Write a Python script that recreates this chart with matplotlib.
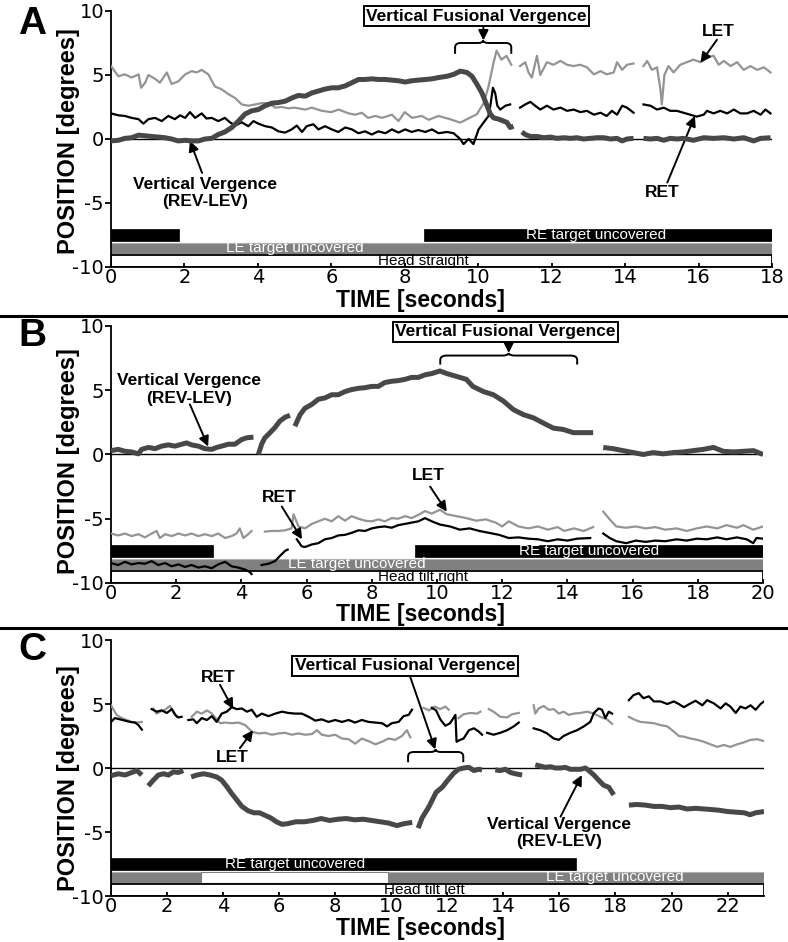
import numpy as np
import matplotlib
matplotlib.use("Agg")
import matplotlib.pyplot as plt
from matplotlib.lines import Line2D
from matplotlib.patches import Rectangle, PathPatch
from matplotlib.path import Path

plt.rcParams['axes.unicode_minus'] = False
TXT = ['Liberation Sans', 'DejaVu Sans']

# ---------------- data (time [s], position [deg]); None = gap ----------------
# Panel A, head straight
a_let = [(0, 5.7), (0.2, 4.9), (0.38, 5.05), (0.56, 4.8), (0.75, 5.05), (0.82, 4.0), (0.93, 4.4), (1.02, 5.0),
         (1.2, 4.7), (1.33, 4.4), (1.52, 5.2), (1.65, 4.3), (1.83, 4.5), (2.02, 5.05), (2.2, 5.3), (2.33, 5.2),
         (2.47, 5.4), (2.65, 5.05), (2.83, 4.1), (3.0, 3.9), (3.2, 3.5), (3.38, 3.2), (3.56, 2.7), (3.74, 2.6),
         (3.92, 2.7), (4.1, 2.8), (4.29, 2.8), (4.47, 2.45), (4.65, 2.5), (4.83, 2.4), (5.0, 2.45), (5.29, 2.3),
         (5.47, 2.45), (5.74, 2.2), (6.0, 2.1), (6.2, 2.3), (6.47, 2.0), (6.65, 1.9), (6.83, 2.05), (7.0, 1.65),
         (7.2, 1.8), (7.38, 1.65), (7.65, 1.9), (7.83, 1.4), (8.0, 2.1), (8.2, 1.65), (8.46, 1.8), (8.65, 1.5),
         (8.92, 1.8), (9.24, 1.54), (9.51, 1.28), (9.78, 1.67), (9.96, 1.93), (10.15, 2.8), (10.28, 4.1),
         (10.42, 6.0), (10.5, 6.9), (10.63, 6.2), (10.77, 6.5), (10.9, 5.8), None,
         (11.14, 5.7), (11.28, 6.0), (11.37, 5.2), (11.46, 4.8), (11.6, 6.5), (11.69, 5.0), (11.87, 6.0),
         (12.05, 5.8), (12.24, 6.1), (12.42, 5.8), (12.6, 5.7), (12.78, 5.8), (12.96, 5.6), (13.15, 5.05),
         (13.33, 5.3), (13.5, 5.05), (13.69, 5.2), (13.78, 6.0), (13.92, 5.4), (14.05, 5.8), (14.23, 5.9), None,
         (14.5, 5.7), (14.6, 6.1), (14.73, 5.4), (14.87, 5.6), (14.96, 3.9), (15.0, 2.7), (15.07, 5.0),
         (15.18, 5.7), (15.32, 5.2), (15.5, 5.8), (15.68, 6.0), (15.86, 6.2), (16.05, 6.0), (16.23, 6.4),
         (16.41, 6.5), (16.55, 5.8), (16.69, 6.1), (16.87, 5.7), (17.05, 6.0), (17.23, 5.4), (17.41, 5.7),
         (17.6, 5.4), (17.78, 5.6), (17.96, 5.2)]
a_ret = [(0, 2.0), (0.2, 1.85), (0.38, 1.8), (0.56, 1.65), (0.75, 1.55), (0.88, 1.2), (1.02, 1.55), (1.2, 1.65),
         (1.38, 1.4), (1.56, 1.8), (1.74, 1.55), (1.88, 1.85), (2.02, 1.65), (2.15, 2.1), (2.29, 1.65), (2.47, 2.0),
         (2.6, 1.6), (2.74, 1.65), (2.92, 1.4), (3.1, 1.65), (3.24, 1.3), (3.38, 1.05), (3.56, 1.3), (3.74, 1.0),
         (3.88, 1.4), (4.01, 1.2), (4.2, 1.0), (4.38, 0.9), (4.56, 0.6), (4.74, 0.5), (4.92, 0.75), (5.06, 1.05),
         (5.2, 0.55), (5.33, 1.0), (5.51, 1.15), (5.65, 0.75), (5.83, 1.0), (6.01, 0.75), (6.19, 0.55), (6.38, 0.9),
         (6.56, 0.75), (6.74, 0.45), (6.92, 0.6), (7.1, 0.35), (7.28, 0.6), (7.47, 0.45), (7.65, 0.75), (7.83, 0.5),
         (8.01, 0.75), (8.19, 0.55), (8.37, 0.7), (8.56, 0.55), (8.74, 0.75), (8.92, 0.45), (9.15, 0.55),
         (9.33, 0.45), (9.51, 0.0), (9.6, -0.4), (9.74, 0.0), (9.87, -0.4), (10.01, 0.75), (10.15, 1.3),
         (10.28, 1.8), (10.33, 2.6), (10.4, 4.0), (10.46, 3.6), (10.52, 2.6), (10.6, 2.3), (10.74, 2.6),
         (10.87, 2.7), None,
         (11.14, 2.45), (11.28, 2.7), (11.42, 2.9), (11.55, 2.6), (11.69, 2.3), (11.87, 2.6), (12.05, 2.3),
         (12.24, 2.45), (12.42, 2.2), (12.6, 2.3), (12.78, 2.1), (12.96, 2.2), (13.15, 1.9), (13.33, 2.05),
         (13.5, 1.8), (13.64, 2.2), (13.78, 1.9), (13.92, 2.6), (14.05, 2.45), (14.23, 2.05), None,
         (14.5, 2.7), (14.69, 2.6), (14.87, 2.3), (15.05, 2.45), (15.23, 2.2), (15.41, 2.2), (15.59, 2.05),
         (15.77, 1.9), (15.95, 1.75), (16.14, 1.9), (16.23, 2.2), (16.41, 2.0), (16.59, 2.2), (16.78, 2.0),
         (16.96, 2.3), (17.14, 2.0), (17.32, 2.0), (17.5, 2.2), (17.69, 1.9), (17.82, 2.3), (17.96, 2.0)]
a_vv = [(0, -0.15), (0.2, -0.1), (0.38, 0.05), (0.56, 0.1), (0.75, 0.3), (0.93, 0.25), (1.1, 0.2), (1.29, 0.15),
        (1.47, 0.1), (1.65, 0.0), (1.83, -0.15), (2.02, -0.1), (2.2, -0.15), (2.38, -0.15), (2.56, 0.0),
        (2.74, 0.05), (2.92, 0.35), (3.1, 0.55), (3.29, 0.9), (3.47, 1.4), (3.65, 1.95), (3.83, 2.2), (4.01, 2.3),
        (4.2, 2.6), (4.38, 2.8), (4.56, 2.85), (4.74, 2.95), (4.92, 3.2), (5.1, 3.4), (5.29, 3.35), (5.47, 3.6),
        (5.65, 3.75), (5.83, 3.9), (6.01, 4.0), (6.19, 4.0), (6.38, 4.15), (6.56, 4.4), (6.74, 4.65), (6.92, 4.65),
        (7.1, 4.7), (7.28, 4.65), (7.47, 4.65), (7.65, 4.6), (7.83, 4.55), (8.01, 4.45), (8.19, 4.55), (8.37, 4.6),
        (8.56, 4.65), (8.74, 4.7), (8.92, 4.8), (9.15, 4.9), (9.33, 5.05), (9.51, 5.3), (9.69, 5.2), (9.83, 4.9),
        (9.96, 4.3), (10.1, 3.6), (10.24, 2.6), (10.33, 1.95), (10.42, 1.65), (10.56, 1.55), (10.69, 1.4),
        (10.78, 1.3), (10.87, 0.9), (10.96, 1.0), None,
        (11.19, 0.55), (11.28, 0.35), (11.42, 0.2), (11.6, 0.2), (11.78, 0.1), (11.96, 0.15), (12.15, 0.05),
        (12.33, 0.1), (12.51, 0.05), (12.69, 0.1), (12.87, 0.0), (13.05, 0.05), (13.24, 0.1), (13.42, 0.1),
        (13.6, 0.0), (13.78, 0.05), (13.92, -0.15), (14.05, 0.0), (14.23, 0.05), None,
        (14.5, 0.05), (14.69, 0.0), (14.87, 0.05), (15.05, -0.1), (15.23, 0.05), (15.41, 0.0), (15.59, 0.05),
        (15.86, -0.1), (16.14, 0.1), (16.41, 0.05), (16.69, 0.1), (16.96, 0.0), (17.23, 0.1), (17.5, -0.15),
        (17.69, 0.05), (17.96, 0.1)]

# Panel B, head tilt right
b_let = [(0, -6.15), (0.22, -6.3), (0.43, -6.15), (0.63, -6.35), (0.84, -6.2), (1.04, -6.45), (1.25, -6.15),
         (1.4, -5.95), (1.5, -6.5), (1.66, -6.2), (1.86, -6.35), (2.07, -6.15), (2.27, -6.3), (2.47, -6.15),
         (2.68, -6.35), (2.88, -6.2), (3.09, -6.35), (3.29, -6.15), (3.5, -6.5), (3.7, -6.35), (3.85, -6.15),
         (3.95, -5.75), (4.06, -6.5), (4.21, -6.2), (4.31, -5.95), None,
         (4.72, -6.0), (4.93, -5.95), (5.13, -5.95), (5.34, -5.9), (5.54, -5.75), (5.6, -4.65), (5.75, -5.6),
         (5.95, -5.75), (6.16, -5.4), (6.36, -5.2), (6.56, -5.0), (6.77, -5.2), (6.97, -4.8), (7.18, -5.15),
         (7.38, -4.8), (7.59, -5.0), (7.79, -5.15), (8.0, -5.2), (8.2, -5.05), (8.4, -5.2), (8.61, -4.95),
         (8.81, -5.0), (9.02, -4.8), (9.22, -4.95), (9.43, -4.7), (9.63, -4.4), (9.84, -4.6), (10.09, -4.3),
         (10.3, -4.65), (10.6, -4.8), (10.9, -4.95), (11.2, -5.15), (11.5, -5.05), (11.8, -5.3), (12.0, -5.6),
         (12.2, -5.2), (12.5, -5.6), (12.8, -5.75), (13.1, -5.6), (13.4, -5.85), (13.7, -5.65), (13.9, -5.95),
         (14.2, -5.75), (14.5, -5.95), (14.79, -5.65), None,
         (15.1, -4.45), (15.3, -5.05), (15.5, -5.6), (15.8, -5.7), (16.1, -5.6), (16.4, -5.75), (16.7, -5.65),
         (17.0, -5.85), (17.35, -5.75), (17.66, -5.95), (17.97, -5.75), (18.27, -5.6), (18.6, -5.75),
         (18.88, -5.5), (19.2, -5.7), (19.4, -5.5), (19.7, -5.85), (20.0, -5.6)]
b_ret = [(0, -8.45), (0.22, -8.6), (0.43, -8.35), (0.63, -8.55), (0.84, -8.45), (1.04, -8.5), (1.25, -8.3),
         (1.45, -8.6), (1.66, -8.45), (1.86, -8.7), (2.07, -8.55), (2.27, -8.75), (2.47, -8.6), (2.68, -8.8),
         (2.88, -8.7), (3.09, -8.85), (3.29, -8.55), (3.5, -8.35), (3.7, -8.7), (3.9, -8.8), (4.11, -8.95),
         (4.26, -9.15), (4.31, -9.3), None,
         (4.62, -8.6), (4.83, -8.5), (5.03, -8.3), (5.18, -7.9), (5.34, -7.5), (5.42, -7.4), None,
         (5.7, -6.6), (5.85, -7.15), (5.95, -7.2), (6.16, -7.0), (6.36, -6.9), (6.56, -6.6), (6.77, -6.5),
         (6.97, -6.3), (7.18, -6.25), (7.38, -6.1), (7.59, -5.9), (7.79, -5.95), (8.0, -5.75), (8.2, -5.65),
         (8.4, -5.6), (8.61, -5.7), (8.81, -5.5), (9.02, -5.4), (9.22, -5.3), (9.43, -5.2), (9.63, -4.95),
         (9.84, -5.2), (10.09, -5.45), (10.4, -5.6), (10.7, -5.85), (11.0, -5.75), (11.3, -5.95), (11.6, -6.1),
         (11.9, -6.25), (12.2, -6.5), (12.5, -6.45), (12.8, -6.55), (13.1, -6.6), (13.4, -6.75), (13.7, -6.6),
         (14.0, -6.7), (14.3, -6.55), (14.7, -6.5), None,
         (15.1, -6.15), (15.3, -6.5), (15.5, -6.75), (15.8, -6.9), (16.1, -6.7), (16.4, -6.8), (16.7, -6.7),
         (17.0, -6.75), (17.35, -6.6), (17.66, -6.7), (17.97, -6.55), (18.27, -6.6), (18.6, -6.45),
         (18.88, -6.6), (19.2, -6.45), (19.5, -6.6), (19.7, -6.9), (19.8, -6.5), (20.0, -6.55)]
b_vv = [(0, 0.3), (0.22, 0.4), (0.43, 0.25), (0.63, 0.2), (0.84, 0.05), (0.94, 0.4), (1.15, 0.55), (1.35, 0.45),
        (1.55, 0.65), (1.76, 0.75), (1.96, 0.65), (2.17, 0.8), (2.32, 0.9), (2.47, 0.75), (2.68, 0.65),
        (2.88, 0.45), (3.09, 0.4), (3.24, 0.55), (3.39, 0.65), (3.6, 0.8), (3.8, 0.8), (4.0, 1.15), (4.16, 1.3),
        (4.37, 1.35), None,
        (4.52, 0.0), (4.62, 0.8), (4.72, 1.3), (4.88, 1.7), (5.03, 2.1), (5.18, 2.6), (5.34, 2.9), (5.49, 3.05),
        None,
        (5.64, 2.2), (5.8, 3.1), (5.95, 3.6), (6.16, 3.9), (6.36, 4.3), (6.56, 4.4), (6.77, 4.65), (6.97, 4.65),
        (7.18, 4.9), (7.38, 5.05), (7.59, 5.15), (7.79, 5.2), (8.0, 5.3), (8.2, 5.3), (8.4, 5.6), (8.61, 5.7),
        (8.81, 5.75), (9.02, 5.85), (9.22, 6.0), (9.43, 6.0), (9.63, 6.2), (9.84, 6.3), (10.09, 6.5),
        (10.3, 6.3), (10.5, 6.15), (10.7, 6.0), (10.9, 5.85), (11.1, 5.3), (11.42, 4.9), (11.73, 4.65),
        (12.04, 4.15), (12.34, 3.5), (12.65, 3.1), (12.96, 2.85), (13.26, 2.45), (13.57, 2.05), (13.87, 1.95),
        (14.18, 1.7), (14.49, 1.7), (14.79, 1.7), None,
        (15.1, 0.55), (15.41, 0.45), (15.71, 0.3), (16.02, 0.15), (16.33, 0.0), (16.63, 0.15), (16.94, 0.05),
        (17.25, 0.15), (17.56, 0.2), (17.86, 0.3), (18.17, 0.4), (18.48, 0.55), (18.78, 0.25), (19.09, 0.2),
        (19.4, 0.25), (19.71, 0.3), (20.0, 0.0)]

# Panel C, head tilt left
c_let = [(0, 4.9), (0.08, 4.6), (0.2, 4.15), (0.38, 3.9), (0.56, 3.75), (0.74, 3.6), (0.92, 3.55), (1.1, 3.6), None,
         (1.51, 4.65), (1.63, 4.25), (1.75, 4.4), (1.93, 4.55), (2.1, 4.85), (2.23, 4.4), (2.35, 4.0), None,
         (2.88, 4.0), (3.06, 4.4), (3.24, 4.25), (3.42, 4.5), (3.6, 4.25), (3.77, 3.8), (3.9, 3.5), (4.07, 3.55),
         (4.31, 3.5), (4.55, 3.55), (4.79, 3.35), (5.02, 2.85), (5.26, 2.7), (5.5, 2.75), (5.74, 2.6),
         (5.98, 2.7), (6.21, 2.75), (6.45, 2.6), (6.69, 2.7), (6.93, 2.6), (7.17, 2.65), (7.35, 2.95), (7.52, 2.6),
         (7.76, 2.5), (8.0, 2.6), (8.24, 2.3), (8.48, 2.25), (8.71, 1.9), (8.95, 2.3), (9.19, 2.1), (9.43, 1.85),
         (9.67, 2.05), (9.9, 2.3), (10.14, 2.2), (10.38, 2.5), (10.56, 2.95), (10.68, 2.4), None,
         (11.15, 4.7), (11.35, 4.5), (11.55, 4.8), (11.75, 4.6), (11.93, 4.8), (12.05, 4.55), None,
         (12.4, 3.9), (12.58, 4.2), (12.82, 4.3), (13.06, 4.25), (13.18, 4.4), None,
         (13.48, 4.6), (13.65, 4.4), (13.89, 4.0), (14.13, 3.95), (14.31, 4.2), (14.55, 4.3), None,
         (15.08, 4.9), (15.14, 4.25), (15.26, 4.65), (15.44, 4.85), (15.62, 4.55), (15.8, 4.6), (15.98, 4.25),
         (16.15, 4.4), (16.33, 4.15), (16.51, 4.25), (16.75, 4.3), (16.99, 4.4), (17.23, 4.25), (17.46, 4.0),
         (17.7, 3.8), (17.88, 3.45), None,
         (18.48, 4.0), (18.65, 3.8), (18.89, 3.6), (19.13, 3.55), (19.37, 3.5), (19.61, 3.35), (19.85, 3.25),
         (20.08, 2.85), (20.26, 2.5), (20.44, 2.45), (20.68, 2.3), (20.92, 2.2), (21.15, 2.05), (21.39, 1.85),
         (21.63, 1.65), (21.87, 1.8), (22.1, 1.65), (22.34, 1.85), (22.58, 2.0), (22.82, 2.2), (23.06, 2.25),
         (23.3, 2.1)]
c_ret = [(0, 3.6), (0.14, 3.9), (0.32, 3.8), (0.5, 3.7), (0.68, 3.6), (0.86, 3.55), (0.98, 3.35), (1.1, 3.0), None,
         (1.45, 4.6), (1.63, 4.4), (1.81, 4.5), (1.99, 4.3), (2.17, 4.6), (2.29, 4.15), (2.4, 3.95), (2.52, 4.0),
         None,
         (2.76, 3.75), (2.94, 3.8), (3.06, 3.5), (3.24, 3.9), (3.42, 3.75), (3.6, 4.05), (3.77, 3.6),
         (3.95, 4.25), (4.13, 4.4), (4.31, 4.75), (4.49, 4.6), (4.67, 4.65), (4.85, 4.4), (5.02, 4.55), (5.2, 4.0),
         (5.38, 4.25), (5.62, 4.05), (5.86, 4.25), (6.1, 4.4), (6.33, 4.3), (6.57, 4.25), (6.81, 4.25), (7.05, 4.0),
         (7.29, 3.7), (7.52, 3.8), (7.76, 3.6), (8.0, 3.75), (8.24, 3.6), (8.48, 3.75), (8.71, 3.55), (8.95, 3.75),
         (9.19, 3.6), (9.43, 3.55), (9.67, 3.5), (9.85, 3.25), (10.02, 3.5), (10.26, 3.6), (10.44, 4.05),
         (10.62, 4.15), (10.74, 4.55), None,
         (11.45, 4.7), (11.6, 4.5), (11.75, 3.8), (11.93, 3.3), (12.1, 3.5), (12.29, 4.15), (12.33, 2.05),
         (12.46, 2.2), (12.58, 2.3), (12.77, 2.95), (12.95, 3.1), (13.12, 2.85), (13.24, 2.6), None,
         (13.42, 2.75), (13.65, 2.6), (13.89, 2.75), (14.13, 2.95), (14.37, 3.25), (14.55, 3.55), None,
         (15.08, 3.1), (15.32, 2.95), (15.56, 2.7), (15.8, 2.3), (15.98, 2.2), (16.15, 2.5), (16.39, 2.75),
         (16.63, 2.95), (16.87, 3.25), (17.1, 3.6), (17.23, 4.3), (17.4, 4.65), (17.52, 4.55), (17.64, 3.9),
         (17.76, 4.4), (17.88, 4.25), None,
         (18.48, 5.3), (18.65, 5.7), (18.83, 5.85), (19.0, 5.45), (19.19, 5.6), (19.37, 5.2), (19.61, 5.2),
         (19.85, 5.0), (20.08, 5.2), (20.26, 5.0), (20.44, 4.75), (20.68, 5.05), (20.86, 5.25), (21.1, 4.9),
         (21.27, 5.3), (21.51, 5.05), (21.75, 4.65), (21.93, 5.05), (22.1, 4.8), (22.29, 4.3), (22.46, 4.8),
         (22.64, 4.65), (22.82, 4.9), (23.0, 4.55), (23.18, 5.0), (23.3, 5.2)]
c_vv = [(0, -0.6), (0.26, -0.45), (0.5, -0.55), (0.74, -0.35), (0.92, -0.2), (1.1, -0.55), None,
        (1.33, -1.4), (1.51, -0.95), (1.69, -0.55), (1.87, -0.45), (2.05, -0.55), (2.23, -0.3), (2.4, -0.35),
        (2.58, -0.2), None,
        (2.86, -0.7), (3.06, -0.55), (3.3, -0.45), (3.54, -0.55), (3.77, -0.7), (3.95, -0.95), (4.13, -1.45),
        (4.31, -2.0), (4.49, -2.5), (4.67, -3.0), (4.9, -3.35), (5.1, -3.5), (5.3, -3.5), (5.5, -3.7),
        (5.7, -3.9), (5.9, -4.2), (6.1, -4.4), (6.3, -4.35), (6.6, -4.2), (6.9, -4.2), (7.2, -4.1), (7.5, -3.95),
        (7.8, -4.1), (8.1, -4.0), (8.4, -3.95), (8.7, -4.05), (9.0, -4.0), (9.3, -4.1), (9.6, -4.2), (9.9, -4.3),
        (10.2, -4.5), (10.45, -4.35), (10.75, -4.25), None,
        (10.96, -4.7), (11.1, -3.9), (11.35, -3.0), (11.6, -1.9), (11.82, -1.5), (12.0, -1.0), (12.23, -0.4),
        (12.4, -0.1), (12.58, 0.0), (12.77, 0.05), (12.95, -0.2), (13.12, -0.1), (13.24, -0.15), None,
        (13.71, -0.15), (13.89, -0.2), (14.07, -0.1), (14.25, -0.35), (14.43, -0.45), (14.67, -0.55), None,
        (15.14, 0.25), (15.32, 0.15), (15.5, 0.05), (15.68, 0.1), (15.86, 0.0), (16.04, 0.0), (16.21, 0.05),
        (16.39, -0.1), (16.57, -0.1), (16.75, -0.1), (16.93, 0.0), (17.05, -0.2), (17.23, -0.55), (17.4, -0.95),
        (17.58, -1.35), (17.76, -1.5), (17.94, -2.1), None,
        (18.48, -2.9), (18.77, -2.85), (19.07, -2.9), (19.37, -3.0), (19.67, -3.0), (19.96, -3.1),
        (20.26, -3.05), (20.56, -3.2), (20.86, -3.15), (21.15, -3.2), (21.45, -3.25), (21.7, -3.3), (22.0, -3.4),
        (22.3, -3.45), (22.6, -3.5), (22.8, -3.65), (23.0, -3.5), (23.3, -3.4)]

# condition bars: (start, end)
a_re_cover = [(0, 1.85), (8.53, 18)]
a_le_cover = [(0, 18)]
b_re_cover = [(0, 3.13), (9.33, 20)]
b_le_cover = [(0, 20)]
c_re_cover = [(0, 16.6)]
c_le_cover = [(0, 3.21), (9.9, 23.3)]


def xy(pairs):
    t = [np.nan if p is None else p[0] for p in pairs]
    v = [np.nan if p is None else p[1] for p in pairs]
    return np.array(t), np.array(v)


def brace(ax, x0, x1, ytop, ybot, r):
    xc = (x0 + x1) / 2
    verts = [(x0, ybot), (x0, ytop - 0.35), (x0, ytop), (x0 + r, ytop), (xc - r, ytop),
             (xc, ytop), (xc, ytop + 0.2), (xc, ytop), (xc + r, ytop),
             (x1 - r, ytop), (x1, ytop), (x1, ytop - 0.35), (x1, ybot)]
    codes = [Path.MOVETO, Path.LINETO, Path.CURVE3, Path.CURVE3, Path.LINETO,
             Path.CURVE3, Path.CURVE3, Path.CURVE3, Path.CURVE3,
             Path.LINETO, Path.CURVE3, Path.CURVE3, Path.LINETO]
    ax.add_patch(PathPatch(Path(verts, codes), fc='none', ec='k', lw=1.4, clip_on=False))


def arrow(ax, head, tail):
    ax.annotate('', xy=head, xytext=tail, annotation_clip=False,
                arrowprops=dict(arrowstyle='-|>', color='k', lw=1.4, mutation_scale=15,
                                shrinkA=0, shrinkB=0))


def label(ax, x, y, s, **kw):
    ax.text(x, y, s, ha='center', va='center', fontsize=12.5, fontweight='bold',
            family=TXT, clip_on=False, **kw)


def setup(ax, xmax, xticks, re_bars, le_bars, le_gaps, head_text, re_x, le_x, head_x):
    ax.set_xlim(0, xmax)
    ax.set_ylim(-10, 10)
    ax.set_xticks(xticks)
    ax.set_yticks([-10, -5, 0, 5, 10])
    for s in ['top', 'right']:
        ax.spines[s].set_visible(False)
    ax.spines['left'].set_linewidth(1.3)
    ax.spines['bottom'].set_linewidth(1.3)
    ax.tick_params(axis='y', direction='out', length=4, width=1.3, pad=1, labelsize=14)
    ax.tick_params(axis='x', direction='in', length=3, width=1.3, pad=1, labelsize=14)
    for lab in ax.get_xticklabels() + ax.get_yticklabels():
        lab.set_family('DejaVu Sans')
    ax.axhline(0, color='k', lw=1.0, zorder=2)
    # condition bars
    for a, b in le_bars:
        ax.add_patch(Rectangle((a, -9.0), b - a, 0.9, fc='#808080', ec='#b0b0b0', lw=0.8, zorder=1))
    for a, b in le_gaps:
        ax.add_patch(Rectangle((a, -9.0), b - a, 0.9, fc='white', ec='#808080', lw=0.8, zorder=1))
    for a, b in re_bars:
        ax.add_patch(Rectangle((a, -7.95), b - a, 0.9, fc='black', ec='black', lw=0.5, zorder=1))
    ax.add_patch(Rectangle((0, -10), xmax, 0.9, fc='white', ec='black', lw=1.3, zorder=1))
    ax.text(re_x, -7.5, 'RE target uncovered', color='white', ha='center', va='center',
            fontsize=11, family=TXT, zorder=1.5)
    ax.text(le_x, -8.5, 'LE target uncovered', color='white', ha='center', va='center',
            fontsize=11, family=TXT, zorder=1.5)
    ax.text(head_x, -9.57, head_text, color='black', ha='center', va='center',
            fontsize=11, family=TXT, zorder=1.5)


def traces(ax, let, ret, vv):
    t, v = xy(let)
    ax.plot(t, v, color='#949494', lw=1.6, zorder=3)
    t, v = xy(ret)
    ax.plot(t, v, color='black', lw=1.6, zorder=4)
    t, v = xy(vv)
    ax.plot(t, v, color='#484848', lw=3.6, zorder=5, solid_capstyle='butt')


fig = plt.figure(figsize=(7.88, 9.42), dpi=100)
W, H = 788.0, 942.0


def axes_px(l, r, top, bot):
    return fig.add_axes([l / W, 1 - bot / H, (r - l) / W, (bot - top) / H])


axA = axes_px(111, 772, 11, 267)
axB = axes_px(111, 763, 326, 583)
axC = axes_px(111, 764, 640, 896)

# ---- A ----
setup(axA, 18, range(0, 19, 2), a_re_cover, a_le_cover, [], 'Head straight', 13.2, 5.0, 8.5)
traces(axA, a_let, a_ret, a_vv)
label(axA, 9.95, 9.6, 'Vertical Fusional Vergence',
      bbox=dict(boxstyle='square,pad=0.15', fc='white', ec='black', lw=1.4))
brace(axA, 9.37, 10.9, 7.5, 6.65, 0.15)
arrow(axA, (10.14, 7.7), (10.14, 8.7))
label(axA, 2.56, -4.2, 'Vertical Vergence\n(REV-LEV)')
arrow(axA, (2.15, -0.15), (2.48, -2.65))
label(axA, 16.54, 8.36, 'LET')
arrow(axA, (16.05, 5.95), (16.5, 7.75))
label(axA, 15.0, -4.2, 'RET')
arrow(axA, (15.9, 1.8), (15.15, -3.4))

# ---- B ----
setup(axB, 20, range(0, 21, 2), b_re_cover, b_le_cover, [], 'Head tilt right', 14.66, 7.55, 9.57)
traces(axB, b_let, b_ret, b_vv)
label(axB, 12.1, 9.55, 'Vertical Fusional Vergence',
      bbox=dict(boxstyle='square,pad=0.15', fc='white', ec='black', lw=1.4))
brace(axB, 10.1, 14.3, 7.7, 7.0, 0.2)
arrow(axB, (12.2, 7.9), (12.2, 8.75))
label(axB, 2.39, 5.06, 'Vertical Vergence\n(REV-LEV)')
arrow(axB, (2.98, 0.62), (2.42, 3.9))
label(axB, 5.15, -3.35, 'RET')
arrow(axB, (5.86, -6.6), (5.24, -4.05))
label(axB, 9.72, -1.63, 'LET')
arrow(axB, (10.3, -4.45), (9.79, -2.5))

# ---- C ----
setup(axC, 23.3, range(0, 23, 2), c_re_cover, c_le_cover, [(3.21, 9.9)], 'Head tilt left', 6.57, 17.96, 11.18)
traces(axC, c_let, c_ret, c_vv)
label(axC, 10.5, 7.97, 'Vertical Fusional Vergence',
      bbox=dict(boxstyle='square,pad=0.15', fc='white', ec='black', lw=1.4))
brace(axC, 10.6, 12.57, 1.25, 0.45, 0.2)
arrow(axC, (11.57, 1.45), (10.68, 7.1))
label(axC, 3.82, 7.1, 'RET')
arrow(axC, (4.36, 4.6), (3.89, 6.5))
label(axC, 4.32, 0.85, 'LET')
arrow(axC, (5.07, 2.95), (4.6, 1.55))
label(axC, 16.0, -5.1, 'Vertical Vergence\n(REV-LEV)')
arrow(axC, (16.8, -0.55), (16.04, -3.8))

# ---- figure-level text ----
for letter, py in [('A', 24), ('B', 336), ('C', 650)]:
    fig.text(18 / W, 1 - py / H, letter, fontsize=28, fontweight='bold', family=TXT,
             ha='left', va='center')
for py in [141, 461, 778]:
    fig.text(68 / W, 1 - py / H, 'POSITION [degrees]', rotation=90, fontsize=17,
             fontweight='bold', family=TXT, ha='center', va='center')
for py in [301, 614, 929]:
    fig.text(420 / W, 1 - py / H, 'TIME [seconds]', fontsize=16.5, fontweight='bold',
             family=TXT, ha='center', va='center')
for py in [316, 628]:
    fig.add_artist(Line2D([0, 1], [1 - py / H, 1 - py / H], transform=fig.transFigure,
                          color='black', lw=2.2))

fig.savefig('out.png', dpi=100)
